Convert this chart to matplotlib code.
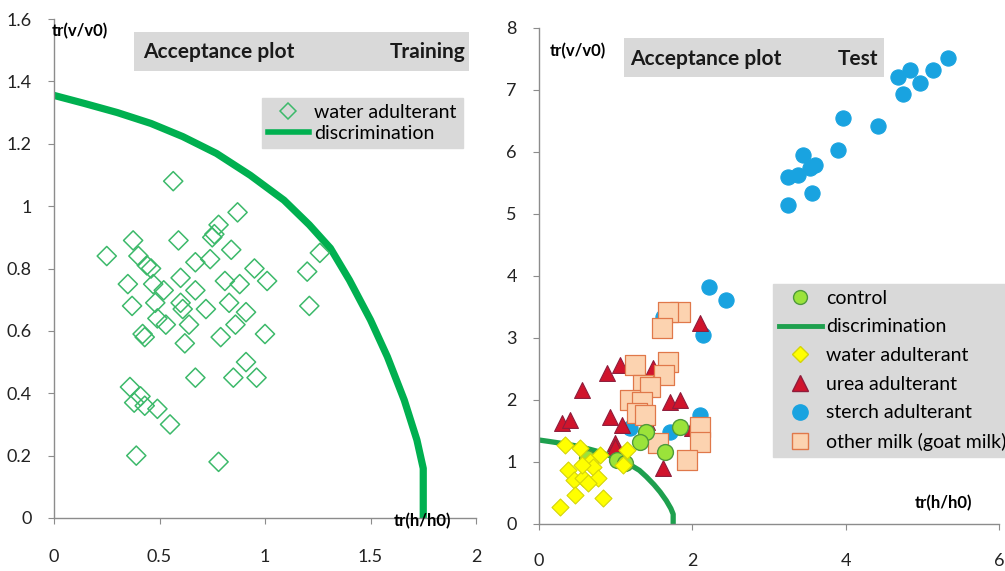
import matplotlib
matplotlib.use("Agg")
import matplotlib.pyplot as plt
from matplotlib.patches import Rectangle
from matplotlib.lines import Line2D

plt.rcParams['font.family'] = ['Lato', 'DejaVu Sans']

# ---------------- data ----------------
# discrimination boundary
curve_x = [0.00, 0.14, 0.30, 0.46, 0.61, 0.77, 0.93, 1.09, 1.21, 1.31, 1.40, 1.50, 1.58, 1.66, 1.72, 1.75, 1.75]
curve_y = [1.355, 1.33, 1.30, 1.265, 1.223, 1.169, 1.099, 1.019, 0.94, 0.865, 0.763, 0.635, 0.517, 0.378,
           0.25, 0.159, 0.0]

# training: water adulterant
train_x = [0.25, 0.375, 0.565, 0.59, 0.87, 0.78, 0.75, 0.76, 0.84, 0.74, 0.67, 0.40, 0.44, 0.46,
           0.95, 1.01, 0.88, 0.81, 0.60, 1.20, 1.26, 0.35, 0.47, 0.52, 0.67,
           0.37, 0.48, 0.49, 0.53, 0.60, 0.61, 0.72, 0.83, 0.91, 0.86, 0.64,
           0.42, 0.43, 0.62, 0.79, 1.00, 1.21, 0.91, 0.96, 0.67, 0.85,
           0.36, 0.38, 0.41, 0.43, 0.49, 0.55, 0.39, 0.78]
train_y = [0.84, 0.89, 1.08, 0.89, 0.98, 0.94, 0.90, 0.91, 0.86, 0.83, 0.82, 0.84, 0.81, 0.80,
           0.80, 0.76, 0.75, 0.76, 0.77, 0.79, 0.85, 0.75, 0.75, 0.73, 0.73,
           0.68, 0.69, 0.64, 0.62, 0.69, 0.67, 0.67, 0.69, 0.66, 0.62, 0.62,
           0.59, 0.58, 0.56, 0.58, 0.59, 0.68, 0.50, 0.45, 0.45, 0.45,
           0.42, 0.37, 0.39, 0.36, 0.35, 0.30, 0.20, 0.18]

# test set
control_x = [1.84, 1.40, 1.32, 1.64, 1.02, 1.12, 0.63]
control_y = [1.56, 1.48, 1.32, 1.16, 1.03, 0.98, 1.06]

water_x = [0.34, 0.53, 0.80, 0.67, 1.15, 1.10, 0.38, 0.71, 0.45, 0.58, 0.77, 0.64, 0.47, 0.84, 0.27, 0.56]
water_y = [1.27, 1.22, 1.11, 1.00, 1.19, 0.95, 0.87, 0.92, 0.71, 0.74, 0.74, 0.66, 0.47, 0.42, 0.27, 0.95]

urea_x = [2.10, 1.06, 0.89, 1.49, 0.56, 1.71, 1.84, 0.93, 0.30, 0.40, 1.08, 1.41, 0.99, 1.62, 2.00, 0.99]
urea_y = [3.24, 2.56, 2.43, 2.52, 2.16, 1.97, 2.00, 1.73, 1.63, 1.68, 1.60, 1.65, 1.31, 0.90, 1.55, 1.24]

starch_x = [5.33, 5.14, 4.84, 4.68, 4.97, 4.75, 3.97, 4.42, 3.90, 3.44, 3.60, 3.53, 3.25, 3.38, 3.56, 3.25,
            2.22, 2.44, 2.14, 1.62, 2.10, 1.19, 1.71]
starch_y = [7.52, 7.32, 7.32, 7.21, 7.11, 6.93, 6.55, 6.42, 6.03, 5.95, 5.79, 5.74, 5.60, 5.63, 5.34, 5.15,
            3.82, 3.61, 3.05, 3.34, 1.76, 1.55, 1.48]

goat_x = [1.84, 1.68, 1.61, 1.68, 1.25, 1.63, 1.36, 1.45, 1.19, 1.34, 1.28, 1.38, 1.55, 2.10, 2.10, 1.93]
goat_y = [3.42, 3.42, 3.16, 2.61, 2.56, 2.40, 2.24, 2.21, 2.00, 1.97, 1.79, 1.76, 1.31, 1.56, 1.32, 1.03]

left_xticks = [0, 0.5, 1, 1.5, 2]
left_xticklabels = ['0', '0.5', '1', '1.5', '2']
left_yticks = [0, 0.2, 0.4, 0.6, 0.8, 1.0, 1.2, 1.4, 1.6]
left_yticklabels = ['0', '0.2', '0.4', '0.6', '0.8', '1', '1.2', '1.4', '1.6']
right_xticks = [0, 2, 4, 6]
right_yticks = [0, 1, 2, 3, 4, 5, 6, 7, 8]

# ---------------- figure ----------------
W, H = 1005, 571
fig = plt.figure(figsize=(W / 100, H / 100), dpi=100)


def fx(px):
    return px / W


def fy(py):
    return 1 - py / H


SPINE = '#8c8c8c'
GREY = '#d9d9d9'


def style_axes(ax, xpad, ypad):
    for s in ['top', 'right']:
        ax.spines[s].set_visible(False)
    for s in ['left', 'bottom']:
        ax.spines[s].set_color(SPINE)
        ax.spines[s].set_linewidth(1.0)
    ax.tick_params(axis='both', direction='out', length=4, color=SPINE, labelsize=13,
                   labelcolor='#222222')
    ax.tick_params(axis='x', pad=xpad)
    ax.tick_params(axis='y', pad=ypad)


# ---- left: training ----
axL = fig.add_axes([fx(54), fy(518), fx(476) - fx(54), fy(19) - fy(518)])
axL.set_xlim(0, 2)
axL.set_ylim(0, 1.6)
axL.set_xticks(left_xticks, left_xticklabels)
axL.set_yticks(left_yticks, left_yticklabels)
style_axes(axL, 18, 12)
axL.plot(curve_x, curve_y, color='#00b050', lw=5.2, solid_capstyle='butt', solid_joinstyle='round',
         zorder=2)
axL.scatter(train_x, train_y, marker='D', s=95, facecolors='none', edgecolors='#3cb96a',
            linewidths=1.1, zorder=3)

# ---- right: test ----
axR = fig.add_axes([fx(539), fy(524), fx(999) - fx(539), fy(28) - fy(524)])
axR.set_xlim(0, 6)
axR.set_ylim(0, 8)
axR.set_xticks(right_xticks)
axR.set_yticks(right_yticks)
style_axes(axR, 17, 12)
axR.plot(curve_x, curve_y, color='#1ea04e', lw=3.8, solid_capstyle='butt', solid_joinstyle='round',
         zorder=2)
axR.scatter(starch_x, starch_y, marker='o', s=120, facecolors='#19a3e0', edgecolors='#19a3e0',
            linewidths=0.8, zorder=3)
axR.scatter(urea_x, urea_y, marker='^', s=130, facecolors='#d0142c', edgecolors='#8e1d3c',
            linewidths=0.8, zorder=4)
axR.scatter(goat_x, goat_y, marker='s', s=190, facecolors='#fcd3b0', edgecolors='#e0784a',
            linewidths=0.9, zorder=5)
axR.scatter(control_x, control_y, marker='o', s=130, facecolors='#9be33a', edgecolors='#4f9a3c',
            linewidths=1.0, zorder=6)
axR.scatter(water_x, water_y, marker='D', s=75, facecolors='#ffff00', edgecolors='#d4d40a',
            linewidths=0.8, zorder=7)

# ---- title boxes ----
fig.patches.append(Rectangle((fx(134), fy(71)), fx(469) - fx(134), fy(32) - fy(71),
                             transform=fig.transFigure, facecolor=GREY, edgecolor='none', zorder=0))
fig.text(fx(143), fy(52), 'Acceptance plot', fontsize=15, fontweight='bold', va='center', ha='left',
         color='#1a1a1a')
fig.text(fx(465), fy(52), 'Training', fontsize=15, fontweight='bold', va='center', ha='right',
         color='#1a1a1a')

fig.patches.append(Rectangle((fx(624), fy(77)), fx(884) - fx(624), fy(38) - fy(77),
                             transform=fig.transFigure, facecolor=GREY, edgecolor='none', zorder=0))
fig.text(fx(630), fy(59), 'Acceptance plot', fontsize=15, fontweight='bold', va='center', ha='left',
         color='#1a1a1a')
fig.text(fx(878), fy(59), 'Test', fontsize=15, fontweight='bold', va='center', ha='right',
         color='#1a1a1a')

# ---- axis labels ----
fig.text(fx(52), fy(31), 'tr(v/v0)', fontsize=12, fontweight='bold', va='center', ha='left')
fig.text(fx(394), fy(521), 'tr(h/h0)', fontsize=12, fontweight='bold', va='center', ha='left')
fig.text(fx(550), fy(51), 'tr(v/v0)', fontsize=12, fontweight='bold', va='center', ha='left')
fig.text(fx(915), fy(503), 'tr(h/h0)', fontsize=12, fontweight='bold', va='center', ha='left')

# ---- legends ----
legL = axL.legend(
    handles=[Line2D([], [], ls='none', marker='D', ms=8, mfc='none', mec='#3cb96a', mew=1.1),
             Line2D([], [], color='#00b050', lw=4)],
    labels=['water adulterant', 'discrimination'],
    loc='upper left', bbox_to_anchor=(fx(262), fy(98)), bbox_transform=fig.transFigure,
    frameon=True, fancybox=False, facecolor=GREY, edgecolor=GREY, framealpha=1,
    fontsize=14, handlelength=2.1, handletextpad=0.3, borderpad=0.3, labelspacing=0.2,
    borderaxespad=0)

legR = axR.legend(
    handles=[Line2D([], [], ls='none', marker='o', ms=10, mfc='#9be33a', mec='#4f9a3c', mew=1.0),
             Line2D([], [], color='#1ea04e', lw=3.5),
             Line2D([], [], ls='none', marker='D', ms=8, mfc='#ffff00', mec='#d4d40a'),
             Line2D([], [], ls='none', marker='^', ms=11, mfc='#d0142c', mec='#8e1d3c'),
             Line2D([], [], ls='none', marker='o', ms=11, mfc='#19a3e0', mec='#19a3e0'),
             Line2D([], [], ls='none', marker='s', ms=11, mfc='#fcd3b0', mec='#e0784a')],
    labels=['control', 'discrimination', 'water adulterant', 'urea adulterant',
            'sterch adulterant', 'other milk (goat milk)'],
    loc='upper left', bbox_to_anchor=(fx(773), fy(284)), bbox_transform=fig.transFigure,
    frameon=True, fancybox=False, facecolor=GREY, edgecolor=GREY, framealpha=1,
    fontsize=14, handlelength=2.2, handletextpad=0.25, borderpad=0.3, labelspacing=0.6,
    borderaxespad=0)
legR.set_zorder(10)

fig.savefig('out.png', dpi=100)
